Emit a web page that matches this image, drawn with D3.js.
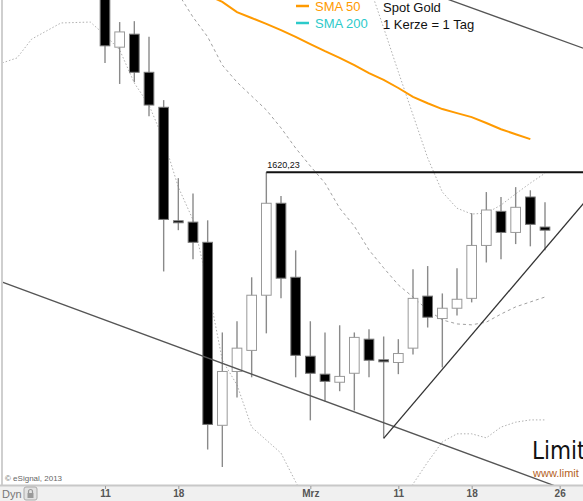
<!DOCTYPE html>
<html><head><meta charset="utf-8">
<script src="https://cdn.jsdelivr.net/npm/d3@7"></script>
<style>html,body{margin:0;padding:0;background:#fff;}svg{display:block;font-family:"Liberation Sans",Arial,sans-serif;}</style>
</head><body>
<script>
// ---- DATA ----
const days = ["2013-01-31","2013-02-01","2013-02-04","2013-02-05","2013-02-06","2013-02-07","2013-02-08",
  "2013-02-11","2013-02-12","2013-02-13","2013-02-14","2013-02-15",
  "2013-02-18","2013-02-19","2013-02-20","2013-02-21","2013-02-22",
  "2013-02-25","2013-02-26","2013-02-27","2013-02-28","2013-03-01",
  "2013-03-04","2013-03-05","2013-03-06","2013-03-07","2013-03-08",
  "2013-03-11","2013-03-12","2013-03-13","2013-03-14","2013-03-15",
  "2013-03-18","2013-03-19","2013-03-20","2013-03-21","2013-03-22",
  "2013-03-25","2013-03-26","2013-03-27","2013-03-28"];
const candleDays = days.slice(7, 38); // Feb 11 .. Mar 25
const open  = [1662.0,1648.1,1651.0,1642.5,1634.7,1609.4,1609.1,1604.6,1563.8,1575.8,1580.5,1592.8,1613.3,1596.8,1579.2,1575.2,1573.4,1575.4,1583.0,1578.4,1577.8,1581.0,1592.6,1587.6,1589.9,1592.1,1603.9,1611.5,1606.8,1614.7,1608.0];
const high  = [1664.2,1653.7,1653.9,1650.4,1636.3,1618.9,1615.5,1609.5,1584.5,1587.0,1596.8,1620.23,1614.9,1602.8,1587.0,1584.5,1586.1,1584.5,1585.2,1583.6,1583.0,1598.6,1599.3,1593.2,1598.8,1611.1,1615.8,1614.7,1616.9,1616.2,1613.5];
const low   = [1644.6,1639.9,1640.3,1632.7,1598.1,1607.3,1600.8,1558.4,1554.5,1570.0,1574.5,1584.3,1592.1,1574.5,1564.9,1569.1,1571.4,1567.1,1574.5,1560.9,1575.2,1579.6,1585.6,1576.7,1588.3,1591.2,1600.1,1600.8,1604.2,1603.7,1602.8];
const close = [1648.4,1651.5,1642.5,1635.2,1609.7,1609.2,1604.6,1564.0,1575.8,1581.0,1592.8,1613.3,1596.6,1579.4,1575.4,1573.6,1574.7,1583.4,1578.3,1578.2,1579.8,1592.1,1587.9,1589.9,1591.9,1603.9,1611.8,1606.8,1612.4,1608.6,1607.3];

// SMA 50 from Feb 20 .. Mar 25
const sma50Days = days.slice(14, 38);
const sma50 = [1659.7,1658.2,1655.9,1654.6,1653.3,1651.9,1650.4,1648.8,1647.2,1645.7,1644.1,1642.3,1640.8,1639.0,1637.0,1635.6,1634.3,1633.4,1632.5,1631.2,1629.8,1628.7,1627.6];
// Bollinger middle (Feb 18 .. Mar 25)
const bbMidDays = days.slice(12, 38);
const bbMid = [1660.0,1654.8,1650.4,1644.1,1640.3,1637.2,1634.1,1630.1,1625.6,1621.6,1617.8,1612.2,1608.2,1602.9,1598.9,1595.1,1592.4,1589.5,1587.3,1586.4,1586.2,1586.8,1588.6,1590.2,1591.3,1592.4];
// Bollinger upper (Mar 7 .. Mar 25)
const bbUpDays = days.slice(25, 38);
const bbUp = [1662.0,1652.4,1642.6,1633.0,1623.4,1615.8,1612.2,1610.9,1611.1,1612.9,1615.4,1617.8,1620.0];
// Bollinger lower (Jan 31 .. Mar 25), null = off chart
const bbLowDays = days.slice(0, 38);
const bbLow = [1644.6,1645.7,1649.9,1651.7,1653.5,1653.6,1653.7,1650.8,1647.5,1640.1,1635.2,1627.4,1616.9,1609.6,1595.1,1578.3,1572.8,1563.4,1560.5,1557.6,1551.2,1545.0,null,null,null,null,null,1544.0,1550.7,1555.6,1560.1,1561.9,1561.9,1561.0,1563.4,1564.5,1565.0,1565.0];

// Trend lines [day, price] anchors
const channelLow  = [["2013-01-31",1595.7],["2013-03-28",1547.5]];
const channelHigh = [["2013-03-13",1660.4],["2013-03-28",1647.4]];
const supportLine = [["2013-03-08",1560.9],["2013-03-28",1614.7]];
const resistance  = [["2013-02-26",1620.23],["2013-03-28",1620.23]];
const resistanceLabel = "1620,23";

const tickDays   = ["2013-02-11","2013-02-18","2013-03-01","2013-03-11","2013-03-18","2013-03-26"];
const tickLabels = ["11","18","Mrz","11","18","26"];

const legendNames  = ["SMA 50","SMA 200"];
const legendColors = ["#ff9a00","#2ccaca"];
const infoLines = ["Spot Gold","1 Kerze = 1 Tag"];

// ---- CHART ----
const W = 583, H = 501, plotBottom = 485;
const svg = d3.select("body").append("svg").attr("width", W).attr("height", H);

const x = d3.scalePoint().domain(days).range([2.33, 589]);
const y = d3.scaleLinear().domain([1550, 1660]).range([487.2, -6.2]);
const step = x.step();

svg.append("defs").append("clipPath").attr("id","plot")
  .append("rect").attr("x",2).attr("y",0).attr("width",W-2).attr("height",plotBottom);

const plot = svg.append("g").attr("clip-path","url(#plot)");

function seriesLine(ds, vs) {
  return ds.map((d,i)=>({d, v: vs[i]}));
}
const line = d3.line().defined(p => p.v != null).x(p => x(p.d)).y(p => y(p.v));

// Bollinger bands
plot.append("path").datum(seriesLine(bbLowDays, bbLow)).attr("d", line)
  .attr("fill","none").attr("stroke","#b0b0b0").attr("stroke-width",1).attr("stroke-dasharray","1.5,2");
plot.append("path").datum(seriesLine(bbUpDays, bbUp)).attr("d", line)
  .attr("fill","none").attr("stroke","#b0b0b0").attr("stroke-width",1).attr("stroke-dasharray","1.5,2");
plot.append("path").datum(seriesLine(bbMidDays, bbMid)).attr("d", line)
  .attr("fill","none").attr("stroke","#a0a0a0").attr("stroke-width",1).attr("stroke-dasharray","3,3");

// SMA 50
plot.append("path").datum(seriesLine(sma50Days, sma50)).attr("d", line)
  .attr("fill","none").attr("stroke", legendColors[0]).attr("stroke-width",2);

// Candles
const candles = candleDays.map((d,i)=>({d, o:open[i], h:high[i], l:low[i], c:close[i]}));
const cg = plot.append("g");
cg.selectAll("line.wick").data(candles).join("line").attr("class","wick")
  .attr("x1", c=>x(c.d)).attr("x2", c=>x(c.d))
  .attr("y1", c=>y(c.h)).attr("y2", c=>y(c.l))
  .attr("stroke","#8a8a8a").attr("stroke-width",1.4);
const bw = step*0.66;
cg.selectAll("rect.body").data(candles).join("rect").attr("class","body")
  .attr("x", c=>x(c.d)-bw/2).attr("width", bw)
  .attr("y", c=>y(Math.max(c.o,c.c)))
  .attr("height", c=>Math.max(2, Math.abs(y(c.o)-y(c.c))))
  .attr("fill", c=> c.c>=c.o ? "#fff" : "#000")
  .attr("stroke", c=> c.c>=c.o ? "#999" : "#777").attr("stroke-width",1);

// Trend lines
const tl = d3.line().x(p=>x(p[0])).y(p=>y(p[1]));
function extended(pts){
  const i0 = days.indexOf(pts[0][0]), i1 = days.indexOf(pts[1][0]);
  const slope = (pts[1][1]-pts[0][1])/(i1-i0);
  return [[days[0], pts[0][1] + slope*(0-i0)], [days[days.length-1], pts[0][1] + slope*(days.length-1-i0)]];
}
plot.append("path").attr("d", tl(channelLow)).attr("fill","none").attr("stroke","#555").attr("stroke-width",1.3);
plot.append("path").attr("d", tl(extended(channelHigh))).attr("fill","none").attr("stroke","#555").attr("stroke-width",1.3);
plot.append("path").attr("d", tl(supportLine)).attr("fill","none").attr("stroke","#333").attr("stroke-width",1.3);
plot.append("path").attr("d", tl(resistance)).attr("fill","none").attr("stroke","#111").attr("stroke-width",2);
plot.append("text").attr("x", x(resistance[0][0])+1).attr("y", y(resistance[0][1])-4)
  .attr("font-size",9).attr("fill","#111").text(resistanceLabel);

// Left border
svg.append("line").attr("x1",2).attr("x2",2).attr("y1",0).attr("y2",plotBottom)
  .attr("stroke","#cfcfcf").attr("stroke-width",2);

// Legend
const lg = svg.append("g");
legendNames.forEach((n,i)=>{
  lg.append("line").attr("x1",296).attr("x2",309).attr("y1",6+i*17).attr("y2",6+i*17)
    .attr("stroke",legendColors[i]).attr("stroke-width",2.5);
  lg.append("text").attr("x",315).attr("y",11+i*17).attr("font-size",13).attr("fill",legendColors[i]).text(n);
});
infoLines.forEach((t,i)=>{
  lg.append("text").attr("x",383).attr("y",12+i*17).attr("font-size",13).attr("fill","#111").text(t);
});

// Copyright + logo
svg.append("text").attr("x",5).attr("y",481).attr("font-size",8).attr("fill","#666").text("© eSignal, 2013");
svg.append("text").attr("x",532).attr("y",459).attr("font-size",24)
  .attr("font-family","'DejaVu Sans Condensed','DejaVu Sans',sans-serif")
  .attr("fill","#111").text("Limit");
svg.append("text").attr("x",533).attr("y",477).attr("font-size",11).attr("fill","#b5621e").text("www.limit");

// Axis band
svg.append("rect").attr("x",0).attr("y",plotBottom).attr("width",W).attr("height",H-plotBottom).attr("fill","#f0f0f0");
svg.append("line").attr("x1",0).attr("x2",W).attr("y1",plotBottom+0.5).attr("y2",plotBottom+0.5)
  .attr("stroke","#c8c8c8").attr("stroke-width",2);
const axis = d3.axisBottom(x).tickValues(tickDays).tickFormat((d,i)=>tickLabels[i]).tickSize(3).tickPadding(1);
const ag = svg.append("g").attr("transform",`translate(0,${plotBottom+1})`).call(axis);
ag.select(".domain").remove();
ag.selectAll(".tick line").attr("stroke","#999");
ag.selectAll(".tick text").attr("font-size",10).attr("font-weight","bold").attr("fill","#555")
  .attr("font-family","'Liberation Sans',Arial,sans-serif");

svg.append("text").attr("x",2).attr("y",498).attr("font-size",11).attr("fill","#777").text("Dyn");
const lock = svg.append("g").attr("transform","translate(24,487)");
lock.append("rect").attr("width",13).attr("height",13).attr("rx",2).attr("fill","#e2e2e2").attr("stroke","#aaa");
lock.append("rect").attr("x",3.5).attr("y",6).attr("width",6).attr("height",5).attr("fill","#999");
lock.append("path").attr("d","M4.5,6 V4.5 A2,2 0 0 1 8.5,4.5 V6").attr("fill","none").attr("stroke","#999").attr("stroke-width",1.2);
</script>
</body></html>
